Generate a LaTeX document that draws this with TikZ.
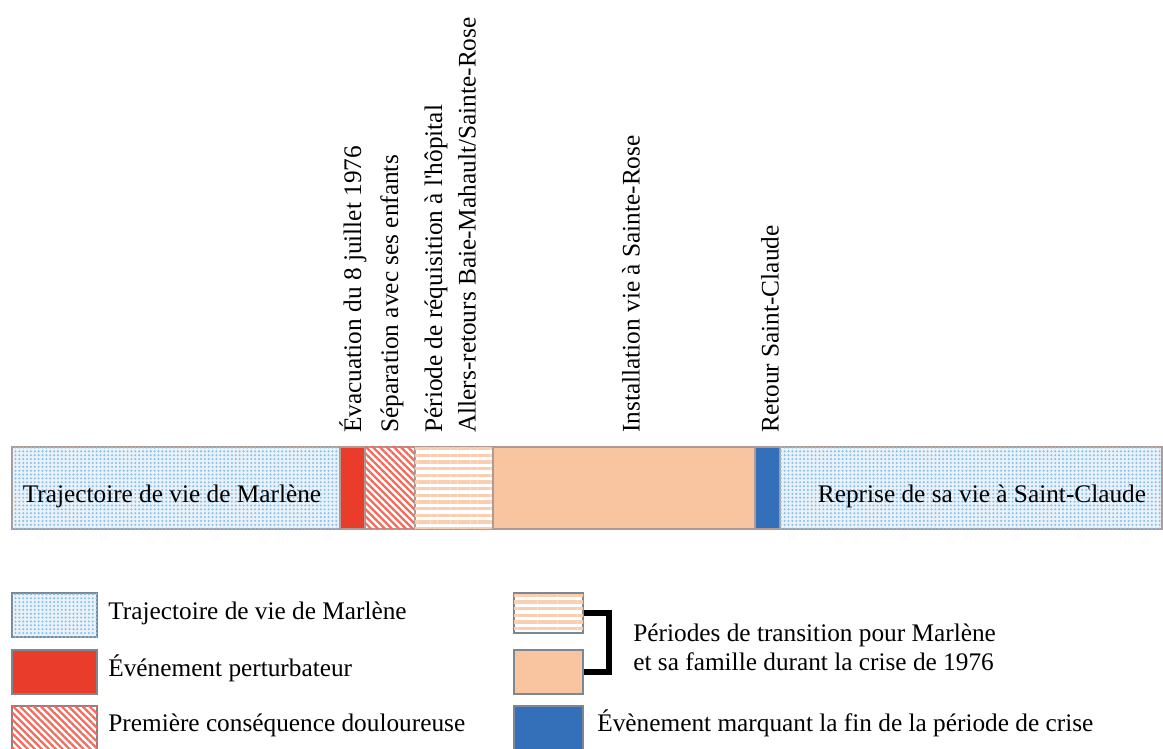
\documentclass[tikz,border=0pt]{standalone}
\usepackage{fontspec}
\setmainfont{Liberation Serif}
\usetikzlibrary{patterns.meta,fit}
\definecolor{dotbg}{RGB}{232,242,250}
\definecolor{dotfg}{RGB}{140,190,230}
\definecolor{evred}{RGB}{234,60,42}
\definecolor{hatchred}{RGB}{240,108,92}
\definecolor{peach}{RGB}{248,197,160}
\definecolor{peachline}{RGB}{249,205,175}
\definecolor{evblue}{RGB}{52,112,186}
\definecolor{segline}{RGB}{175,155,145}
\definecolor{legline}{RGB}{125,135,145}
\tikzset{
  seg/.style={inner sep=0pt, draw=segline, line width=0.6pt},
  trajbox/.style={seg, fill=dotbg, postaction={pattern={Dots[distance=2.2pt,radius=0.65pt]}, pattern color=dotfg}},
  eventbox/.style={seg, fill=evred},
  hatchbox/.style={seg, fill=white, postaction={pattern={Lines[angle=-45,distance=2.8pt,line width=1.3pt]}, pattern color=hatchred}},
  stripebox/.style={seg, fill=white, postaction={pattern={Lines[angle=0,distance=3.8pt,line width=1.9pt]}, pattern color=peachline}},
  peachbox/.style={seg, fill=peach},
  endbox/.style={seg, fill=evblue},
  legbox/.style={draw=legline},
  vlabel/.style={rotate=90, anchor=west, inner sep=0pt},
  hlabel/.style={anchor=west, inner sep=0pt},
}
\begin{document}
\begin{tikzpicture}[x=0.02cm, y={(0cm,-0.02cm)}, font=\fontsize{14.4pt}{17pt}\selectfont]
\useasboundingbox (0,0) rectangle (1163,749);
% timeline bar
\node[trajbox, fit={(12,447)(340,529)}] (life) {};
\node[eventbox, fit={(340,447)(365,529)}] (evac) {};
\node[hatchbox, fit={(365,447)(415,529)}] (sep) {};
\node[stripebox, fit={(415,447)(493,529)}] (req) {};
\node[peachbox, fit={(493,447)(755,529)}] (inst) {};
\node[endbox, fit={(755,447)(780,529)}] (ret) {};
\node[trajbox, fit={(780,447)(1162,529)}] (rep) {};
\node at (172,496) (lifetxt) {Trajectoire de vie de Marlène};
\node at (982,496) (reptxt) {Reprise de sa vie à Saint-Claude};
% vertical labels
\node[vlabel] at (353,433) (l1) {Évacuation du 8 juillet 1976};
\node[vlabel] at (392,433) (l2) {Séparation avec ses enfants};
\node[vlabel] at (436,433) (l3) {Période de réquisition à l\textquotesingle hôpital};
\node[vlabel] at (467,433) (l4) {Allers-retours Baie-Mahault/Sainte-Rose};
\node[vlabel] at (631,433) (l5) {Installation vie à Sainte-Rose};
\node[vlabel] at (770,433) (l6) {Retour Saint-Claude};
% legend left
\node[trajbox, legbox, fit={(12,593)(97,637)}] (k1) {};
\node[eventbox, legbox, fit={(12,650)(97,694)}] (k2) {};
\node[hatchbox, legbox, fit={(12,706)(97,754)}] (k3) {};
\node[hlabel] at (108,613) (k1t) {Trajectoire de vie de Marlène};
\node[hlabel] at (108,668) (k2t) {Événement perturbateur};
\node[hlabel] at (108,725) (k3t) {Première conséquence douloureuse};
% legend right
\node[stripebox, legbox, fit={(514,593)(583,633)}] (ka) {};
\node[peachbox, legbox, fit={(514,650)(583,694)}] (kb) {};
\node[endbox, legbox, fit={(514,706)(583,754)}] (kc) {};
\coordinate (brk) at (609,640);
\draw[line width=3.4pt, line join=miter] (ka.east) -| (brk) |- (kb.east);
\node[hlabel, align=left, font=\fontsize{14.4pt}{16.5pt}\selectfont] at (633,647) (kabt) {Périodes de transition pour Marlène\\et sa famille durant la crise de 1976};
\node[hlabel] at (597,723) (kct) {Évènement marquant la fin de la période de crise};
\end{tikzpicture}
\end{document}
